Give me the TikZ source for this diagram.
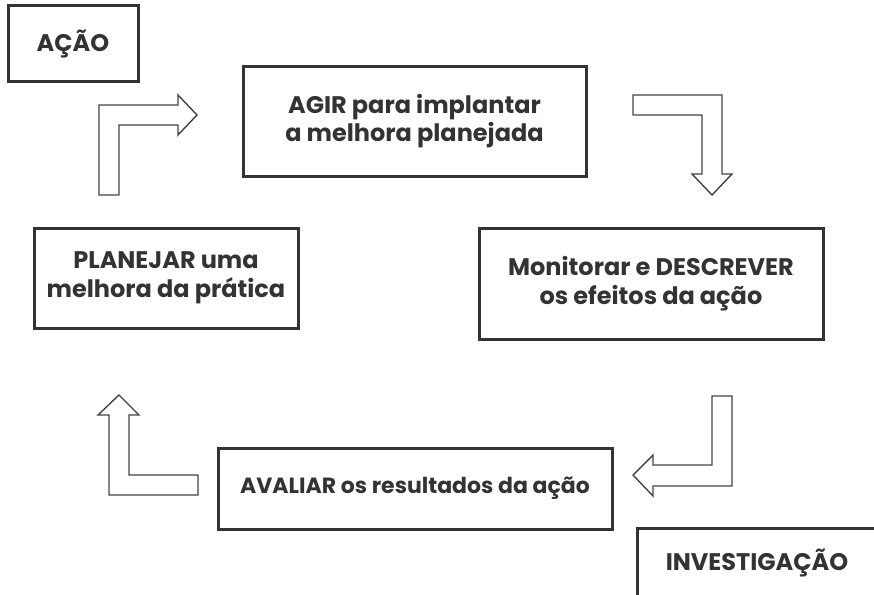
\documentclass[tikz,border=0pt]{standalone}
\usepackage{fontspec}
\setmainfont{Poppins}
\definecolor{ink}{HTML}{333333}
\definecolor{arrowink}{HTML}{444444}
\begin{document}
\begin{tikzpicture}[x=1pt,y=-1pt,
  box/.style={draw=ink,line width=3pt,rectangle,inner sep=0pt,align=center,
    text=ink,font=\fontsize{24}{28.5}\selectfont\bfseries},
  blockarrow/.style={draw=arrowink,line width=1.4pt,fill=white,line join=miter}]
\useasboundingbox (0,0) rectangle (874,594);
\begin{scope}
\clip (0,0) rectangle (874,594);
\node[box,minimum width=130,minimum height=75] (acao) at (73,43.5) {AÇÃO};
\node[box,minimum width=343,minimum height=110] (agir) at (414.5,121) {AGIR para implantar\\a melhora planejada};
\node[box,minimum width=264,minimum height=100] (plan) at (166,278) {\raisebox{-4pt}{\parbox{250pt}{\centering PLANEJAR uma\\melhora da prática}}};
\node[box,minimum width=344,minimum height=111] (mon) at (651,283.5) {Monitorar e DESCREVER\\os efeitos da ação};
\node[box,minimum width=394,minimum height=81,font=\fontsize{22}{26}\selectfont\bfseries] (aval) at (415,488.5) {AVALIAR os resultados da ação};
\node[box,minimum width=240,minimum height=70] (inv) at (757,563) {INVESTIGAÇÃO};
\draw[blockarrow] (99,195) -- (99,105) -- (178,105) -- (178,95) -- (197,115) -- (178,135) -- (178,125) -- (119,125) -- (119,195) -- cycle;
\draw[blockarrow] (633,95) -- (722,95) -- (722,174) -- (732,174) -- (712,195) -- (692,174) -- (702,174) -- (702,115) -- (633,115) -- cycle;
\draw[blockarrow] (712,396) -- (732,396) -- (732,486) -- (653,486) -- (653,496) -- (633,475) -- (653,455) -- (653,465) -- (712,465) -- cycle;
\draw[blockarrow] (198,495) -- (109,495) -- (109,415) -- (98,415) -- (119,395) -- (139,415) -- (129,415) -- (129,475) -- (198,475) -- cycle;
\end{scope}
\end{tikzpicture}
\end{document}
